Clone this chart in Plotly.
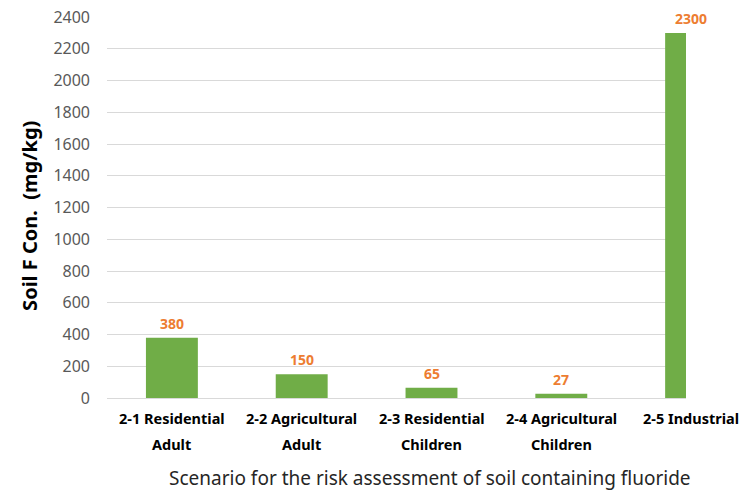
import plotly.graph_objects as go

categories = ["2-1 Residential\nAdult", "2-2 Agricultural\nAdult", "2-3 Residential\nChildren",
              "2-4 Agricultural\nChildren", "2-5 Industrial"]
values = [380, 150, 65, 27, 2300]
value_labels = ["380", "150", "65", "27", "2300"]
y_ticks = list(range(0, 2401, 200))
y_title = "Soil F Con.  (mg/kg)"
x_title = "Scenario for the risk assessment of soil containing fluoride"

keys = [c.replace("\n", " ") for c in categories]

PLOT_L, PLOT_R_BARS, PLOT_R_FULL = 107, 686, 756
n = len(categories)
bar_domain_end = (PLOT_R_BARS - PLOT_L) / (PLOT_R_FULL - PLOT_L)
bars_range_end = -0.5 + n * bar_domain_end

fig = go.Figure()
fig.add_trace(go.Bar(x=keys, y=values, width=0.4, marker=dict(color="#70AD47", line=dict(width=0)),
                     hoverinfo="x+y", xaxis="x", yaxis="y"))

annotations = []
for k, v, lab in zip(keys, values, value_labels):
    annotations.append(dict(x=k, y=v, xref="x2", yref="y2", text="<b>%s</b>" % lab, showarrow=False,
                            yanchor="bottom", yshift=3,
                            font=dict(family="Noto Sans", size=14, color="#ED7D31")))
for k, c in zip(keys, categories):
    lines = c.split("\n")
    for i, line in enumerate(lines):
        annotations.append(dict(x=k, y=0, xref="x2", yref="paper", text="<b>%s</b>" % line,
                                showarrow=False, yanchor="middle", yshift=-20 - 26 * i,
                                font=dict(family="Noto Sans", size=14.5, color="#000000")))
annotations.append(dict(x=(430 - PLOT_L) / (PLOT_R_FULL - PLOT_L), y=0, xref="paper", yref="paper",
                        text=x_title, showarrow=False, yanchor="middle", yshift=-80,
                        font=dict(family="Noto Sans", size=19, color="#262626")))
annotations.append(dict(x=(30 - PLOT_L) / (PLOT_R_FULL - PLOT_L), y=0.478, xref="paper", yref="paper",
                        text="<b>%s</b>" % y_title,
                        showarrow=False, textangle=-90, xanchor="center", yanchor="middle",
                        font=dict(family="Noto Sans", size=20, color="#000000")))

fig.update_layout(
    width=756, height=495,
    margin=dict(l=PLOT_L, r=0, t=17, b=97, autoexpand=False),
    paper_bgcolor="white", plot_bgcolor="rgba(0,0,0,0)",
    showlegend=False,
    annotations=annotations,
    xaxis=dict(type="category", domain=[0, bar_domain_end], range=[-0.5, bars_range_end],
               showticklabels=False, showgrid=False, automargin=False,
               showline=False, ticks="", zeroline=False),
    xaxis2=dict(type="category", domain=[0, 1], range=[-0.5, n - 0.5], categoryarray=keys,
                categoryorder="array", anchor="y2",
                showticklabels=False, showgrid=False, automargin=False,
                showline=False, ticks="", zeroline=False),
    yaxis=dict(range=[0, 2400], tickvals=y_ticks, showgrid=True, gridcolor="#D9D9D9", gridwidth=1,
               zeroline=True, zerolinecolor="#D9D9D9", zerolinewidth=1, showline=False, ticks="",
               ticklabelstandoff=16, automargin=False, anchor="x",
               tickfont=dict(family="Noto Sans", size=16, color="#595959")),
    yaxis2=dict(range=[0, 2400], domain=[0, 1], anchor="x2", showgrid=False, zeroline=False,
                showticklabels=False, showline=False, ticks="", automargin=False),
)

fig.write_html("out.html", config={"displayModeBar": False},
               post_script="document.body.style.margin='0px';")
